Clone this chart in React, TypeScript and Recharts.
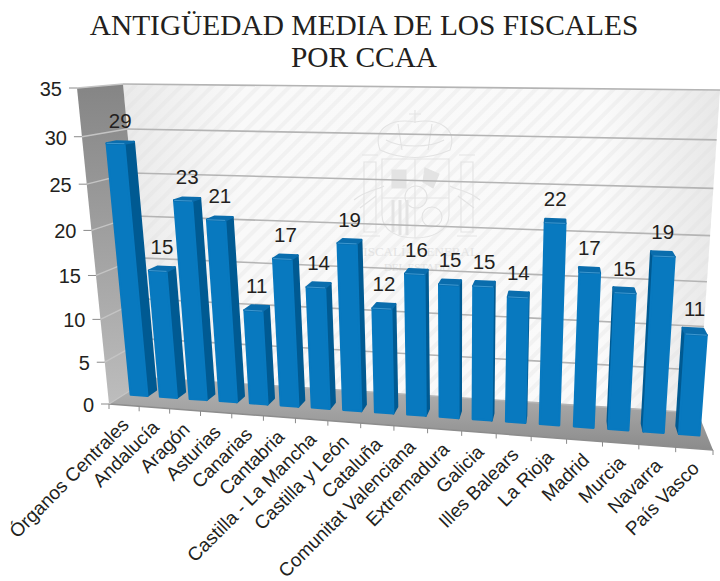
import { BarChart, Bar, XAxis, YAxis, CartesianGrid, LabelList } from 'recharts';

const categories = [
  'Órganos Centrales', 'Andalucía', 'Aragón', 'Asturias', 'Canarias', 'Cantabria',
  'Castilla - La Mancha', 'Castilla y León', 'Cataluña', 'Comunitat Valenciana', 'Extremadura',
  'Galicia', 'Illes Balears', 'La Rioja', 'Madrid', 'Murcia', 'Navarra', 'País Vasco',
];
const antiguedad = [29, 15, 23, 21, 11, 17, 14, 19, 12, 16, 15, 15, 14, 22, 17, 15, 19, 11];
const yTicks = [0, 5, 10, 15, 20, 25, 30, 35];

const data = categories.map((name, i) => ({ name, antiguedad: antiguedad[i] }));

// plot rect handed to recharts, everything is then projected on the 3d box
const W = 720, H = 581;
const PL = 100, PT = 88, PW = 600, PH = 316;
const BAND = PW / categories.length;

type Pt = [number, number];

// unit square -> quad, corners given as TL, TR, BR, BL
function makeHomography(p0: Pt, p1: Pt, p2: Pt, p3: Pt) {
  const dx1 = p1[0] - p2[0], dx2 = p3[0] - p2[0], sx = p0[0] - p1[0] + p2[0] - p3[0];
  const dy1 = p1[1] - p2[1], dy2 = p3[1] - p2[1], sy = p0[1] - p1[1] + p2[1] - p3[1];
  const den = dx1 * dy2 - dx2 * dy1;
  const g = (sx * dy2 - dx2 * sy) / den;
  const h = (dx1 * sy - sx * dy1) / den;
  const a = p1[0] - p0[0] + g * p1[0], b = p3[0] - p0[0] + h * p3[0];
  const d = p1[1] - p0[1] + g * p1[1], e = p3[1] - p0[1] + h * p3[1];
  return (rx: number, ry: number): Pt => {
    const u = (rx - PL) / PW, v = (ry - PT) / PH;
    const w = g * u + h * v + 1;
    return [(a * u + b * v + p0[0]) / w, (d * u + e * v + p0[1]) / w];
  };
}

const FRONT: Pt[] = [[77, 88], [741, 97], [713, 450], [109, 404]];
const BACK: Pt[] = [[123, 84], [720, 90], [698, 413], [150, 378]];
const front = makeHomography(FRONT[0], FRONT[1], FRONT[2], FRONT[3]);
const back = makeHomography(BACK[0], BACK[1], BACK[2], BACK[3]);

// depth: 0 front plane, 1 back wall
const at = (t: number, rx: number, ry: number): Pt => {
  const a = front(rx, ry), b = back(rx, ry);
  return [a[0] + (b[0] - a[0]) * t, a[1] + (b[1] - a[1]) * t];
};
const poly = (pts: Pt[]) => pts.map((p) => `${p[0].toFixed(1)},${p[1].toFixed(1)}`).join(' ');

const T_FRONT = 0.38, T_BACK = 0.6;

function Bar3D(props: any) {
  const { x, y, width, height } = props;
  const x1 = x + width, yb = y + height;
  const f = (rx: number, ry: number) => at(T_FRONT, rx, ry);
  const b = (rx: number, ry: number) => at(T_BACK, rx, ry);
  const showRight = b(x1, yb)[0] > f(x1, yb)[0] + 0.5;
  const showLeft = b(x, yb)[0] < f(x, yb)[0] - 0.5;
  const face = (pts: Pt[], fill: string) => (
    <polygon points={poly(pts)} fill={fill} stroke={fill} strokeWidth={2.2} strokeLinejoin="round" />
  );
  return (
    <g>
      {showRight && face([f(x1, y), b(x1, y), b(x1, yb), f(x1, yb)], '#005a92')}
      {showLeft && face([f(x, y), b(x, y), b(x, yb), f(x, yb)], '#005a92')}
      {face([f(x, y), f(x1, y), f(x1, yb), f(x, yb)], '#0879bf')}
      {face([f(x, y), f(x1, y), b(x1, y), b(x, y)], '#0a6dad')}
      <polyline points={poly([f(x, y), f(x1, y)])} stroke="#3d97cf" strokeWidth={1} fill="none" />
    </g>
  );
}

function BarValue(props: any) {
  const { x, y, width, value } = props;
  const p = at((T_FRONT + T_BACK) / 2, x + width / 2, y);
  return (
    <text x={p[0]} y={p[1] - 15} textAnchor="middle" fontFamily="Liberation Sans" fontSize={20.5} fill="#231f20">
      {value}
    </text>
  );
}

function CategoryTick(props: any) {
  const { x, payload, index } = props;
  const yb = PT + PH;
  const c = front(x, yb);
  const l = front(x - BAND / 2, yb);
  const r = front(x + BAND / 2, yb);
  const tx = c[0] + 6, ty = c[1] + 21;
  return (
    <g>
      <line x1={l[0]} y1={l[1]} x2={l[0]} y2={l[1] + 5} stroke="#8a8a8a" />
      {index === categories.length - 1 && <line x1={r[0]} y1={r[1]} x2={r[0]} y2={r[1] + 5} stroke="#8a8a8a" />}
      <text
        x={tx}
        y={ty}
        transform={`rotate(-45 ${tx} ${ty})`}
        textAnchor="end"
        fontFamily="Liberation Sans"
        fontSize={19}
        fill="#231f20"
      >
        {payload.value}
      </text>
    </g>
  );
}

function ValueTick(props: any) {
  const { y, payload } = props;
  const p = front(PL, y);
  return (
    <g>
      <line x1={p[0] - 8} y1={p[1]} x2={p[0]} y2={p[1]} stroke="#8a8a8a" />
      <text x={p[0] - 15} y={p[1] + 8} textAnchor="end" fontFamily="Liberation Sans" fontSize={20} fill="#231f20">
        {payload.value}
      </text>
    </g>
  );
}

function GridLine(props: any) {
  const { x1, y1, x2, y2 } = props;
  const a = back(x1, y1), b = back(x2, y2), c = front(x1, y1);
  return (
    <g>
      <line x1={c[0]} y1={c[1]} x2={a[0]} y2={a[1]} stroke="#c4c4c4" strokeWidth={1.4} />
      <line x1={a[0]} y1={a[1]} x2={b[0]} y2={b[1]} stroke="#b4b4b4" strokeWidth={1.6} />
    </g>
  );
}

function Emblem() {
  const c = '#e3e3e3';
  return (
    <g fill="none" stroke={c} strokeWidth={1.1}>
      <path d="M380 150 C372 128 392 118 415 122 C438 118 458 128 450 150 C428 160 402 160 380 150 Z" />
      <path d="M386 140 C400 148 430 148 444 140 M415 110 V123 M409 114 H421 M398 124 L402 150 M432 124 L428 150" />
      <path d="M382 159 H449 V215 C449 232 430 238 415 238 C400 238 382 232 382 215 Z" />
      <path d="M415 159 V238 M382 198 H449" />
      <circle cx={416} cy={197} r={11} />
      <circle cx={432} cy={217} r={10} />
      <path d="M393 200 V232 M400 200 V235 M407 200 V235" strokeWidth={3} />
      <path d="M392 170 h14 v18 h-14 Z M425 168 l14 6 -6 14 -10 -6 Z" fill={c} />
      <path d="M362 155 h16 M364 162 h12 V232 h-12 Z M360 236 h20" />
      <path d="M459 155 h16 M461 162 h12 V232 h-12 Z M457 236 h20" />
      <path d="M354 200 C366 190 378 190 384 186 M360 208 L376 196 M480 200 C468 190 456 190 450 186 M474 208 L458 196" />
      <text x={417} y={256} textAnchor="middle" fontFamily="Liberation Serif" fontSize={13} fill={c} stroke="none">
        FISCALÍA GENERAL
      </text>
      <text x={417} y={271} textAnchor="middle" fontFamily="Liberation Serif" fontSize={11} fill={c} stroke="none">
        DEL ESTADO
      </text>
    </g>
  );
}

// walls and floor sit in their own svg behind the chart, recharts paints its grid first
function Box() {
  return (
    <svg width={W} height={H} style={{ position: 'absolute', left: 0, top: 0 }}>
      <defs>
        <linearGradient id="wallFill" x1="0" y1="0" x2="1" y2="0">
          <stop offset="0" stopColor="#eaeaea" />
          <stop offset="0.2" stopColor="#f9f9f9" />
          <stop offset="0.8" stopColor="#fafafa" />
          <stop offset="1" stopColor="#e8e8e8" />
        </linearGradient>
        <pattern id="hatch" width={11} height={11} patternUnits="userSpaceOnUse" patternTransform="rotate(45)">
          <rect width={4} height={11} fill="#dfdfdf" opacity={0.3} />
        </pattern>
        <linearGradient id="floorFill" x1="0" y1="0" x2="0" y2="1">
          <stop offset="0" stopColor="#b5b5b5" />
          <stop offset="1" stopColor="#8b8b8b" />
        </linearGradient>
        <linearGradient id="sideFill" x1="0" y1="0" x2="0" y2="1">
          <stop offset="0" stopColor="#858585" />
          <stop offset="1" stopColor="#bdbdbd" />
        </linearGradient>
      </defs>
      <polygon points={poly(BACK)} fill="url(#wallFill)" />
      <polygon points={poly(BACK)} fill="url(#hatch)" />
      <Emblem />
      <polygon points={poly([FRONT[0], BACK[0], BACK[3], FRONT[3]])} fill="url(#sideFill)" />
      <polygon points={poly([BACK[3], BACK[2], FRONT[2], FRONT[3]])} fill="url(#floorFill)" />
      <polyline points={poly([FRONT[3], FRONT[2]])} stroke="#8d8d8d" strokeWidth={1.5} fill="none" />
    </svg>
  );
}

export default function App() {
  return (
    <div style={{ position: 'absolute', left: 0, top: 0, width: W, height: H, background: '#fff' }}>
      <Box />
      <div style={{ position: 'absolute', left: 0, top: 0 }}>
        <BarChart
          width={W}
          height={H}
          data={data}
          barCategoryGap="21%"
          margin={{ top: PT, left: PL - 1, right: W - PL - PW, bottom: H - PT - PH - 1 }}
        >
          <text x={364} y={35} textAnchor="middle" fontFamily="Liberation Serif" fontSize={29.4} fill="#231f20">
            ANTIGÜEDAD MEDIA DE LOS FISCALES
          </text>
          <text x={364} y={67} textAnchor="middle" fontFamily="Liberation Serif" fontSize={29.4} fill="#231f20">
            POR CCAA
          </text>
          <CartesianGrid vertical={false} horizontal={GridLine as any} />
          <XAxis dataKey="name" height={1} interval={0} axisLine={false} tickLine={false} tick={CategoryTick as any} />
          <YAxis
            width={1}
            domain={[0, 35]}
            ticks={yTicks}
            interval={0}
            axisLine={false}
            tickLine={false}
            tick={ValueTick as any}
          />
          <Bar dataKey="antiguedad" isAnimationActive={false} shape={Bar3D as any}>
            <LabelList dataKey="antiguedad" content={BarValue as any} />
          </Bar>
        </BarChart>
      </div>
    </div>
  );
}
